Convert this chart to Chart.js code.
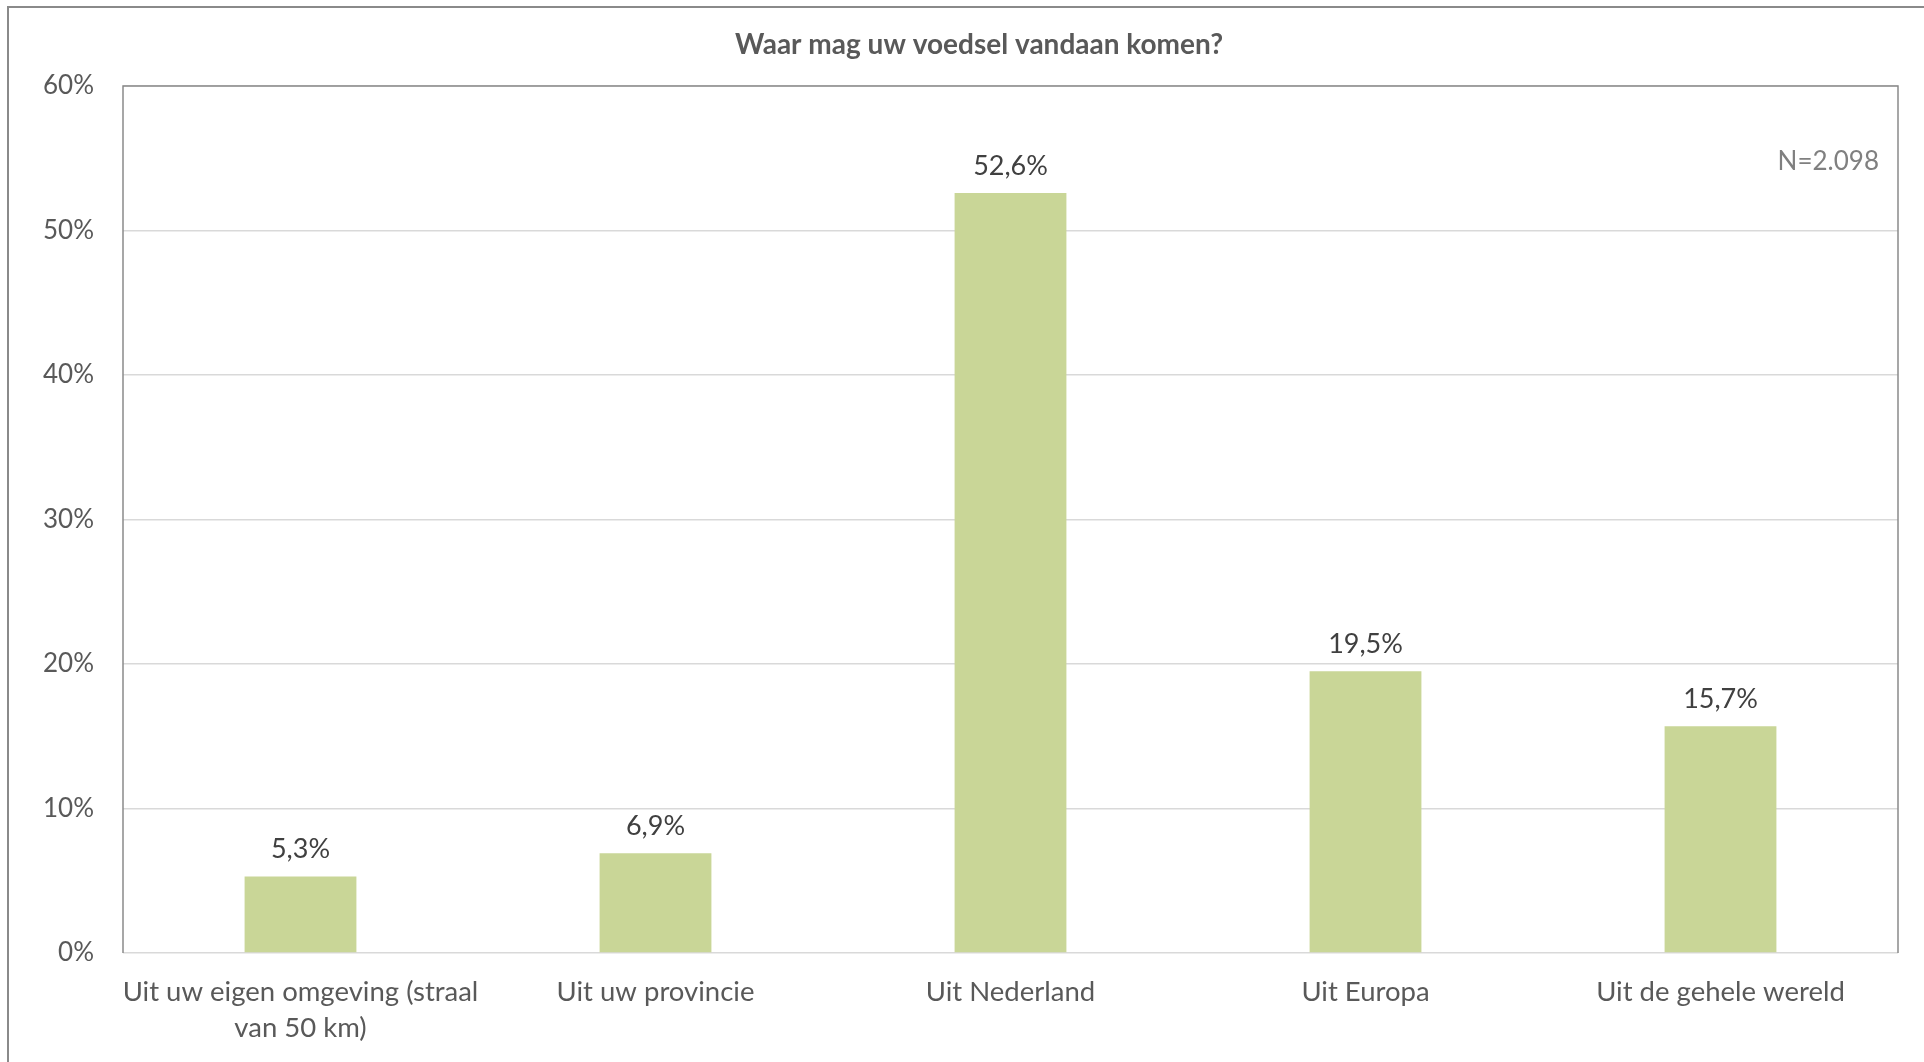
<!DOCTYPE html>
<html>
<head>
<meta charset="utf-8">
<script src="https://cdn.jsdelivr.net/npm/chart.js@4.4.1/dist/chart.umd.min.js"></script>
<style>
  html, body { margin: 0; padding: 0; background: #fff; }
  #wrap { width: 1924px; height: 1062px; position: relative; }
</style>
</head>
<body>
<div id="wrap"><canvas id="herkomst" width="1924" height="1062"></canvas></div>
<script>
// data
const categories = [
  ['Uit uw eigen omgeving (straal', 'van 50 km)'],
  'Uit uw provincie',
  'Uit Nederland',
  'Uit Europa',
  'Uit de gehele wereld'
];
const percentages = [5.3, 6.9, 52.6, 19.5, 15.7];
const yTicks = [0, 10, 20, 30, 40, 50, 60];
const chartTitle = 'Waar mag uw voedsel vandaan komen?';
const sampleNote = 'N=2.098';

const FONT = 'Lato';

// outer frame, title, plot box, value labels and N note
const extras = {
  id: 'extras',
  afterDraw(chart) {
    const c = chart.ctx;
    const a = chart.chartArea;
    c.save();
    // outer border (right/bottom run off the picture)
    c.strokeStyle = '#8a8a8a';
    c.lineWidth = 2;
    c.strokeRect(8, 7, 1930, 1070);
    // title (sits a bit right of the canvas centre, like the original)
    c.fillStyle = '#595959';
    c.font = 'bold 28px ' + FONT;
    c.textAlign = 'center';
    c.textBaseline = 'middle';
    c.fillText(chartTitle, 979, 45);
    // plot box: left, top, right dark; bottom light
    c.lineWidth = 1.5;
    c.beginPath();
    c.moveTo(a.left, a.bottom);
    c.lineTo(a.left, a.top);
    c.lineTo(a.right, a.top);
    c.lineTo(a.right, a.bottom);
    c.stroke();
    // value labels
    c.fillStyle = '#404040';
    c.font = '27px ' + FONT;
    chart.getDatasetMeta(0).data.forEach((bar, i) => {
      c.fillText(percentages[i].toFixed(1).replace('.', ',') + '%', bar.x, bar.y - 27);
    });
    // N note
    c.fillStyle = '#808080';
    c.font = '26px ' + FONT;
    c.textAlign = 'right';
    c.fillText(sampleNote, a.right - 19, 162);
    c.restore();
  }
};

new Chart(document.getElementById('herkomst'), {
  type: 'bar',
  data: {
    labels: categories,
    datasets: [{
      data: percentages,
      backgroundColor: '#c9d697',
      categoryPercentage: 1,
      barPercentage: 0.315
    }]
  },
  options: {
    responsive: false,
    animation: false,
    devicePixelRatio: 1,
    layout: { padding: { left: 34, right: 26, top: 86, bottom: 0 } },
    plugins: {
      legend: { display: false },
      tooltip: { enabled: false },
      title: { display: false }
    },
    scales: {
      x: {
        grid: { display: false, drawTicks: false },
        border: { display: false },
        ticks: {
          color: '#595959',
          font: { family: FONT, size: 27.5, lineHeight: 1.31 },
          padding: 21,
          maxRotation: 0,
          autoSkip: false
        },
        afterFit(scale) { scale.height = 109; }
      },
      y: {
        min: 0,
        max: 60,
        afterBuildTicks(scale) { scale.ticks = yTicks.map(v => ({ value: v })); },
        grid: { color: '#d9d9d9', lineWidth: 1.5, drawTicks: false },
        border: { display: false },
        ticks: {
          color: '#595959',
          font: { family: FONT, size: 26 },
          padding: 29,
          callback: v => v + '%'
        },
        afterFit(scale) { scale.width = 89; }
      }
    }
  },
  plugins: [extras]
});
</script>
</body>
</html>
